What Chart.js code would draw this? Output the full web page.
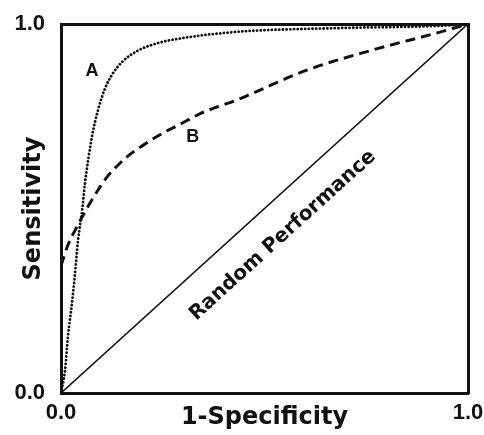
<!DOCTYPE html>
<html>
<head>
<meta charset="utf-8">
<script src="https://cdn.jsdelivr.net/npm/chart.js@4/dist/chart.umd.min.js"></script>
<style>
  html, body { margin: 0; padding: 0; background: #fff; }
  #wrap { width: 484px; height: 435px; }
</style>
</head>
<body>
<div id="wrap"><canvas id="c" width="484" height="435"></canvas></div>
<script>
// ---- data ----
const curveAX = [0, 0.010, 0.017, 0.027, 0.034, 0.042, 0.052, 0.059, 0.076, 0.091, 0.108, 0.125, 0.150, 0.189, 0.231, 0.273, 0.423, 0.686, 0.931, 1.0];
const curveAY = [0, 0.062, 0.152, 0.244, 0.318, 0.415, 0.496, 0.569, 0.694, 0.767, 0.825, 0.862, 0.897, 0.928, 0.946, 0.957, 0.978, 0.989, 0.995, 1.0];
const curveBX = [0, 0.017, 0.039, 0.064, 0.091, 0.113, 0.162, 0.211, 0.251, 0.292, 0.342, 0.383, 0.432, 0.472, 0.604, 0.767, 0.931, 1.0];
const curveBY = [0.345, 0.401, 0.450, 0.501, 0.550, 0.585, 0.640, 0.678, 0.705, 0.728, 0.757, 0.775, 0.794, 0.813, 0.875, 0.930, 0.978, 1.0];
const randomX = [0, 1];
const randomY = [0, 1];
const xTickLabels = ['0.0', '1.0'];
const yTickLabels = ['0.0', '1.0'];
const xTitle = '1-Specificity';
const yTitle = 'Sensitivity';
const curveNames = ['A', 'B', 'Random Performance'];

const toPoints = (xs, ys) => xs.map((v, i) => ({ x: v, y: ys[i] }));

const curveLabels = {
  id: 'curveLabels',
  afterDatasetsDraw(chart, args, opts) {
    const { ctx, scales: { x, y } } = chart;
    const ang = Math.atan2(y.getPixelForValue(1) - y.getPixelForValue(0),
                           x.getPixelForValue(1) - x.getPixelForValue(0));
    opts.items.forEach(it => {
      ctx.save();
      ctx.translate(x.getPixelForValue(it.x), y.getPixelForValue(it.y));
      if (it.diagonal) ctx.rotate(ang);
      ctx.font = it.font;
      ctx.fillStyle = '#111';
      ctx.textAlign = 'center';
      ctx.textBaseline = 'middle';
      ctx.fillText(it.text, 0, 0);
      ctx.restore();
    });
  }
};

const tickFont = { family: 'Liberation Sans', size: 22, weight: 'bold' };
const titleFont = { family: 'DejaVu Sans', size: 24, weight: 'bold' };

new Chart(document.getElementById('c'), {
  type: 'line',
  data: {
    datasets: [
      {
        label: curveNames[0],
        data: toPoints(curveAX, curveAY),
        borderColor: '#111',
        borderWidth: 2.8,
        borderDash: [0.1, 3.6],
        borderCapStyle: 'round',
        pointRadius: 0,
        cubicInterpolationMode: 'monotone',
        fill: false
      },
      {
        label: curveNames[1],
        data: toPoints(curveBX, curveBY),
        borderColor: '#111',
        borderWidth: 3,
        borderDash: [10, 6],
        pointRadius: 0,
        cubicInterpolationMode: 'monotone',
        fill: false
      },
      {
        label: curveNames[2],
        data: toPoints(randomX, randomY),
        borderColor: '#111',
        borderWidth: 1.6,
        pointRadius: 0,
        fill: false
      }
    ]
  },
  options: {
    responsive: false,
    animation: false,
    layout: { padding: { top: 24, right: 16, left: 0, bottom: 0 } },
    plugins: {
      legend: { display: false },
      tooltip: { enabled: false },
      curveLabels: {
        items: [
          { text: curveNames[0], x: 0.076, y: 0.872, font: 'bold 18px "Liberation Sans"' },
          { text: curveNames[1], x: 0.324, y: 0.694, font: 'bold 18px "Liberation Sans"' },
          { text: curveNames[2], x: 0.545, y: 0.427, diagonal: true, font: 'bold 20px "DejaVu Sans"' }
        ]
      }
    },
    scales: {
      x: {
        type: 'linear', position: 'bottom', min: 0, max: 1,
        grid: { display: false, drawTicks: true, tickLength: 7 },
        border: { display: true, color: '#111', width: 3 },
        ticks: {
          stepSize: 1, padding: 0, color: '#111', font: tickFont, maxRotation: 0,
          callback: (v) => xTickLabels[Math.round(v)]
        },
        title: { display: true, text: xTitle, color: '#111', font: titleFont, padding: { top: 0, bottom: 3 } },
        afterFit: (s) => { s.height = 42; }
      },
      y: {
        type: 'linear', position: 'left', min: 0, max: 1,
        grid: { display: false, drawTicks: true, tickLength: 16 },
        border: { display: true, color: '#111', width: 3 },
        ticks: {
          stepSize: 1, padding: 0, color: '#111', font: tickFont,
          callback: (v) => yTickLabels[Math.round(v)]
        },
        title: { display: true, text: yTitle, color: '#111', font: titleFont, padding: { top: 19, bottom: 0 } },
        afterFit: (s) => { s.width = 61; }
      },
      x2: {
        type: 'linear', position: 'top', min: 0, max: 1,
        grid: { display: false, drawTicks: false },
        border: { display: true, color: '#111', width: 3 },
        ticks: { display: false },
        afterFit: (s) => { s.height = 0; }
      },
      y2: {
        type: 'linear', position: 'right', min: 0, max: 1,
        grid: { display: false, drawTicks: false },
        border: { display: true, color: '#111', width: 3 },
        ticks: { display: false },
        afterFit: (s) => { s.width = 0; }
      }
    }
  },
  plugins: [curveLabels]
});
</script>
</body>
</html>
